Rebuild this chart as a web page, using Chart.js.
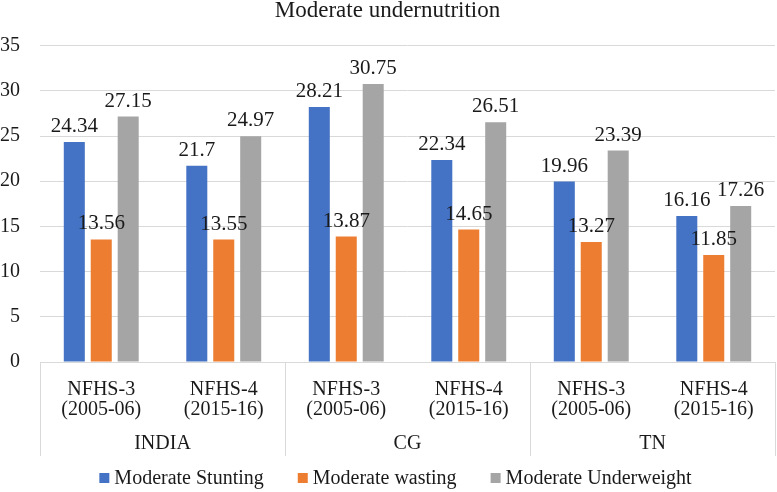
<!DOCTYPE html>
<html>
<head>
<meta charset="utf-8">
<script src="https://cdn.jsdelivr.net/npm/chart.js@4"></script>
<style>
  html, body { margin: 0; padding: 0; background: #fff; }
  #wrap { width: 777px; height: 492px; }
</style>
</head>
<body>
<div id="wrap"><canvas id="chart"></canvas></div>
<script>
// --- DATA ---
const rounds = [["NFHS-3", "(2005-06)"], ["NFHS-4", "(2015-16)"]];
const regions = ["INDIA", "CG", "TN"];
const categories = [rounds[0], rounds[1], rounds[0], rounds[1], rounds[0], rounds[1]];
const stunting = [24.34, 21.7, 28.21, 22.34, 19.96, 16.16];
const wasting = [13.56, 13.55, 13.87, 14.65, 13.27, 11.85];
const underweight = [27.15, 24.97, 30.75, 26.51, 23.39, 17.26];
const yTicks = [0, 5, 10, 15, 20, 25, 30, 35];

const FONT = "'Liberation Serif', 'Times New Roman', serif";
const INK = "#1a1a1a";
const GRID = "#d9d9d9";

// value labels above each bar
const valueLabels = {
    id: "valueLabels",
    afterDatasetsDraw(chart) {
        const ctx = chart.ctx;
        ctx.save();
        ctx.font = "21px " + FONT;
        ctx.fillStyle = INK;
        ctx.textAlign = "center";
        ctx.textBaseline = "bottom";
        chart.data.datasets.forEach((ds, i) => {
            chart.getDatasetMeta(i).data.forEach((bar, j) => {
                ctx.fillText(String(ds.data[j]), bar.x, bar.y - 5);
            });
        });
        ctx.restore();
    }
};

// region labels and separators under the category axis
const groupAxis = {
    id: "groupAxis",
    afterDraw(chart) {
        const ctx = chart.ctx;
        const x = chart.scales.x;
        const area = chart.chartArea;
        const bottom = area.bottom + 94;
        ctx.save();
        ctx.strokeStyle = GRID;
        ctx.lineWidth = 1;
        const edges = [area.left];
        for (let g = 1; g < regions.length; g++) {
            edges.push((x.getPixelForValue(g * 2 - 1) + x.getPixelForValue(g * 2)) / 2);
        }
        edges.push(area.right);
        edges.forEach(e => {
            ctx.beginPath();
            ctx.moveTo(Math.round(e) + 0.5, area.bottom);
            ctx.lineTo(Math.round(e) + 0.5, bottom);
            ctx.stroke();
        });
        ctx.font = "20px " + FONT;
        ctx.fillStyle = INK;
        ctx.textAlign = "center";
        ctx.textBaseline = "middle";
        regions.forEach((r, g) => {
            ctx.fillText(r, (edges[g] + edges[g + 1]) / 2, area.bottom + 82);
        });
        ctx.restore();
    }
};

// legend row at the bottom (square, small gap, text)
const bottomLegend = {
    id: "bottomLegend",
    afterDraw(chart) {
        const ctx = chart.ctx;
        const box = 10, gap = 5, spacing = 34;
        const y = chart.height - 14;
        ctx.save();
        ctx.font = "20px " + FONT;
        ctx.textBaseline = "middle";
        ctx.textAlign = "left";
        const items = chart.data.datasets.map(ds => ({
            text: ds.label, color: ds.backgroundColor, w: ctx.measureText(ds.label).width
        }));
        const total = items.reduce((s, it) => s + box + gap + it.w, 0) + spacing * (items.length - 1);
        let x = chart.width / 2 + 7 - total / 2;
        items.forEach(it => {
            ctx.fillStyle = it.color;
            ctx.fillRect(x, y - box / 2, box, box);
            ctx.fillStyle = INK;
            ctx.fillText(it.text, x + box + gap, y + 1);
            x += box + gap + it.w + spacing;
        });
        ctx.restore();
    }
};

new Chart(document.getElementById("chart"), {
    type: "bar",
    data: {
        labels: categories,
        datasets: [
            { label: "Moderate Stunting", data: stunting, backgroundColor: "#4472C4" },
            { label: "Moderate wasting", data: wasting, backgroundColor: "#ED7D31" },
            { label: "Moderate Underweight", data: underweight, backgroundColor: "#A5A5A5" }
        ]
    },
    options: {
        responsive: true,
        maintainAspectRatio: false,
        animation: false,
        layout: { padding: { left: 0, right: 2, top: 0, bottom: 34 } },
        datasets: { bar: { categoryPercentage: 0.66, barPercentage: 0.78 } },
        plugins: {
            title: {
                display: true,
                text: "Moderate undernutrition",
                color: INK,
                font: { family: FONT, size: 23, weight: "normal" },
                padding: { top: -3, bottom: 21 }
            },
            legend: { display: false },
            tooltip: { enabled: false }
        },
        scales: {
            x: {
                grid: { display: false, drawTicks: false },
                border: { display: true, color: GRID },
                ticks: {
                    color: INK,
                    font: { family: FONT, size: 20, lineHeight: 1.0 },
                    padding: 18,
                    maxRotation: 0
                },
                afterFit(scale) { scale.height = 96; }
            },
            y: {
                min: 0,
                max: 35,
                afterBuildTicks(scale) { scale.ticks = yTicks.map(v => ({ value: v })); },
                grid: { color: GRID, drawTicks: false },
                border: { display: false },
                ticks: {
                    color: INK,
                    font: { family: FONT, size: 20 },
                    padding: 20
                },
                afterFit(scale) { scale.width = 40; }
            }
        }
    },
    plugins: [valueLabels, groupAxis, bottomLegend]
});
</script>
</body>
</html>
